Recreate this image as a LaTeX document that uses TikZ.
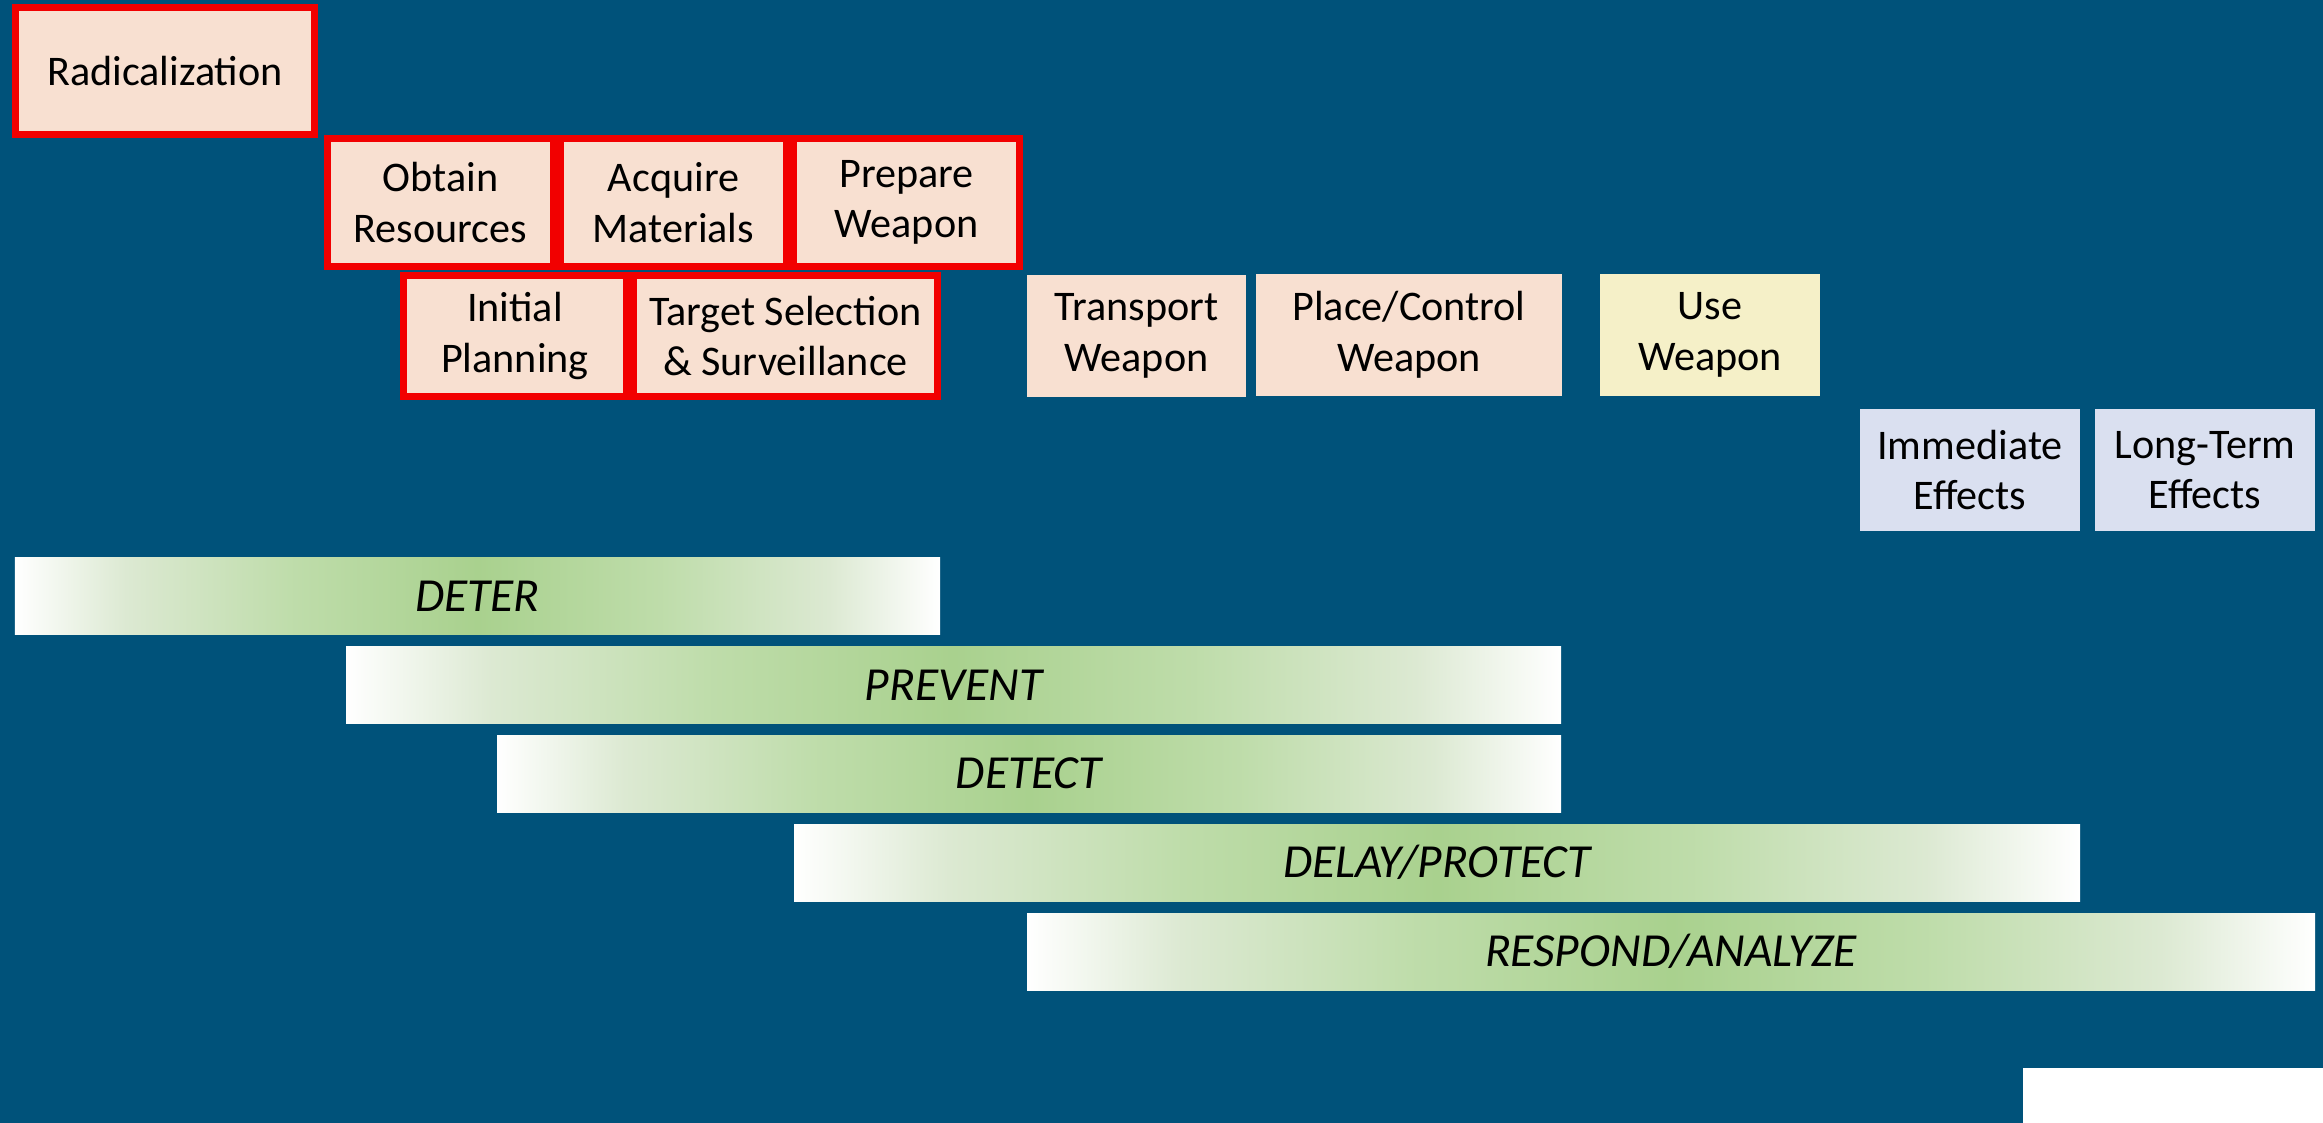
\documentclass[tikz,border=0pt]{standalone}
\usepackage{fontspec}
\setmainfont{Carlito}
\usepackage{tikz}
\usetikzlibrary{positioning}
\definecolor{bgblue}{HTML}{00527A}
\definecolor{peach}{HTML}{F8E0D1}
\definecolor{paleyellow}{HTML}{F5F0C8}
\definecolor{lavender}{HTML}{DAE0F0}
\definecolor{alertred}{HTML}{F20000}
\definecolor{bargreen}{HTML}{A9D18E}
\definecolor{barlight}{HTML}{DCE9D2}
\pgfdeclarehorizontalshading{barshade}{100bp}{color(0bp)=(white); color(25bp)=(white);
  color(31bp)=(barlight); color(40bp)=(bargreen!75!white); color(50bp)=(bargreen);
  color(60bp)=(bargreen!75!white); color(69bp)=(barlight); color(75bp)=(white); color(100bp)=(white)}

\begin{document}
\begin{tikzpicture}[
  stage/.style={rectangle, fill=peach, minimum width=22mm, minimum height=12.2mm,
                inner sep=1pt, align=center, text=black,
                font=\fontsize{12}{14.4}\selectfont},
  redstage/.style={stage, draw=alertred, line width=0.7mm},
  usestage/.style={stage, fill=paleyellow},
  effect/.style={stage, fill=lavender},
  bar/.style={rectangle, minimum height=7.7mm, inner sep=0pt, shading=barshade,
              text=black, font=\itshape\fontsize{13.5}{16}\selectfont}
]
  \fill[bgblue] (0,0) rectangle (23.23,-11.23);
  \useasboundingbox (0,0) rectangle (23.23,-11.23);

  % stages of an attack
  \node[redstage, minimum width=29.9mm, minimum height=12.7mm] (radical) at (1.65,-0.71) {Radicalization};
  \node[redstage, minimum width=22.6mm, minimum height=12.8mm] (obtain) at (4.405,-2.025) {Obtain\\Resources};
  \node[redstage, minimum width=22.6mm, minimum height=12.8mm, right=0pt of obtain] (acquire) {Acquire\\Materials};
  \node[redstage, minimum width=22.6mm, minimum height=12.8mm, right=0pt of acquire] (prepare) {Prepare\\Weapon};
  \node[redstage, minimum width=22.3mm, minimum height=12.1mm] (initial) at (5.15,-3.36) {Initial\\Planning};
  \node[redstage, minimum width=30.4mm, minimum height=12.1mm, right=0pt of initial] (target) {Target Selection\\\& Surveillance};
  \node[stage, minimum width=21.9mm] (transport) at (11.365,-3.36) {Transport\\Weapon};
  \node[stage, minimum width=30.6mm] (place) at (14.09,-3.35) {Place/Control\\Weapon};
  \node[usestage] (use) at (17.10,-3.35) {Use\\Weapon};
  \node[effect] (immediate) at (19.70,-4.70) {Immediate\\Effects};
  \node[effect] (longterm) at (22.05,-4.70) {Long-Term\\Effects};

  % countermeasures
  \node[bar, minimum width=92.5mm] (deter) at (4.775,-5.96) {DETER};
  \node[bar, minimum width=121.5mm] (prevent) at (9.535,-6.85) {PREVENT};
  \node[bar, minimum width=106.4mm] (detect) at (10.29,-7.735) {DETECT};
  \node[bar, minimum width=128.6mm] (delay) at (14.37,-8.625) {DELAY/PROTECT};
  \node[bar, minimum width=128.8mm] (respond) at (16.71,-9.515) {RESPOND/ANALYZE};

  \fill[white] (20.23,-10.68) rectangle (23.23,-11.23);
\end{tikzpicture}
\end{document}
